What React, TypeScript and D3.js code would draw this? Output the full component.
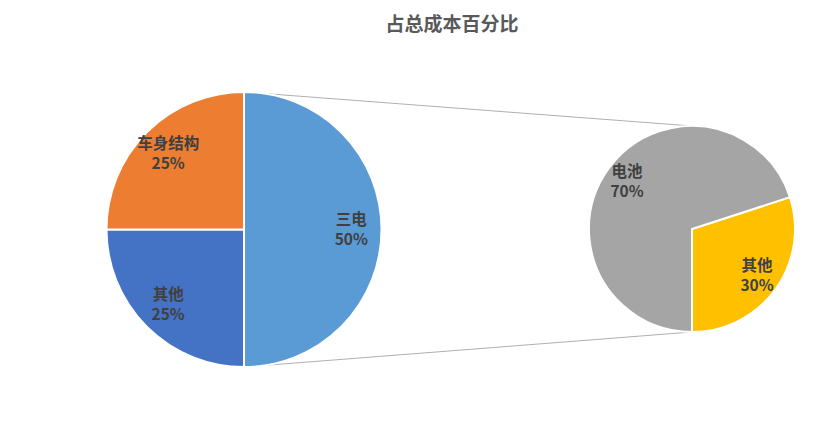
import { useEffect, useRef } from "react";
import * as d3 from "d3";

const title = "占总成本百分比";

const mainLabels = ["三电", "其他", "车身结构"];
const mainValues = [50, 25, 25];
const mainColors = ["#5B9BD5", "#4472C4", "#ED7D31"];

const subLabels = ["其他", "电池"];
const subValues = [30, 70];
const subColors = ["#FFC000", "#A5A5A5"];

const W = 814;
const H = 428;

export default function App() {
  const svgRef = useRef<SVGSVGElement>(null);

  useEffect(() => {
    if (!svgRef.current) return;
    const svg = d3.select(svgRef.current);
    svg.selectAll("*").remove();

    const font = "'Noto Sans CJK SC', 'Microsoft YaHei', sans-serif";

    svg
      .append("text")
      .attr("x", 452)
      .attr("y", 22)
      .attr("text-anchor", "middle")
      .attr("dominant-baseline", "central")
      .attr("font-family", font)
      .attr("font-size", 19)
      .attr("font-weight", "bold")
      .attr("fill", "#595959")
      .text(title);

    const c1 = { x: 244, y: 229.5, r: 137.5 };
    const c2 = { x: 692, y: 229, r: 103 };

    // connector lines between the two pies
    const lines = [
      [c1.x, c1.y - c1.r, c2.x, c2.y - c2.r],
      [c1.x, c1.y + c1.r, c2.x, c2.y + c2.r],
    ];
    svg
      .selectAll(".conn")
      .data(lines)
      .enter()
      .append("line")
      .attr("x1", (d) => d[0])
      .attr("y1", (d) => d[1])
      .attr("x2", (d) => d[2])
      .attr("y2", (d) => d[3])
      .attr("stroke", "#A6A6A6")
      .attr("stroke-width", 0.9);

    const drawPie = (
      c: { x: number; y: number; r: number },
      labels: string[],
      values: number[],
      colors: string[],
      start: number
    ) => {
      const pie = d3
        .pie<number>()
        .sort(null)
        .startAngle(start)
        .endAngle(start + 2 * Math.PI);
      const arcs = pie(values);
      const arc = d3.arc<d3.PieArcDatum<number>>().innerRadius(0).outerRadius(c.r);
      const labelArc = d3
        .arc<d3.PieArcDatum<number>>()
        .innerRadius(c.r * 0.78)
        .outerRadius(c.r * 0.78);

      const g = svg.append("g").attr("transform", `translate(${c.x},${c.y})`);
      g.selectAll("path")
        .data(arcs)
        .enter()
        .append("path")
        .attr("d", arc)
        .attr("fill", (_, i) => colors[i])
        .attr("stroke", "#fff")
        .attr("stroke-width", 2)
        .attr("stroke-linejoin", "round");

      const t = g
        .selectAll(".lbl")
        .data(arcs)
        .enter()
        .append("text")
        .attr("transform", (d) => {
          const [x, y] = labelArc.centroid(d);
          return `translate(${x},${y})`;
        })
        .attr("text-anchor", "middle")
        .attr("font-family", font)
        .attr("font-size", 15.5)
        .attr("font-weight", "bold")
        .attr("fill", "#404040");
      t.append("tspan")
        .attr("x", 0)
        .attr("y", -5)
        .text((_, i) => labels[i]);
      t.append("tspan")
        .attr("x", 0)
        .attr("y", 15)
        .text((d) => `${d.data}%`);
    };

    drawPie(c1, mainLabels, mainValues, mainColors, 0);
    drawPie(c2, subLabels, subValues, subColors, (72 * Math.PI) / 180);
  }, []);

  return (
    <svg
      ref={svgRef}
      width={W}
      height={H}
      style={{ position: "absolute", left: 0, top: 0, background: "#fff" }}
    />
  );
}
